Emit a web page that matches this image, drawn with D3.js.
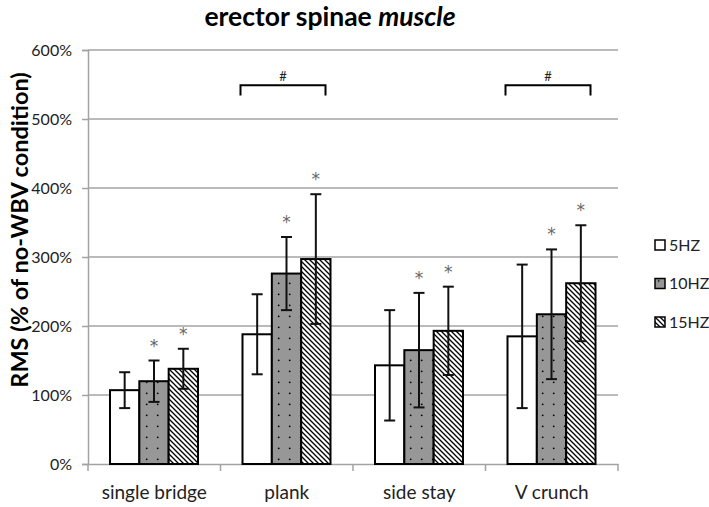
<!DOCTYPE html>
<html><head><meta charset="utf-8">
<script src="https://cdn.jsdelivr.net/npm/d3@7"></script>
<style>body{margin:0;background:#fff} svg{display:block}</style>
</head><body><svg id="c" width="709" height="507"></svg>
<script>
const categories = ["single bridge", "plank", "side stay", "V crunch"];
const seriesNames = ["5HZ", "10HZ", "15HZ"];
const values5 = [107, 188, 143, 185];
const errors5 = [26, 58, 80, 104];
const values10 = [120, 276, 165, 217];
const errors10 = [30, 53, 83, 94];
const values15 = [138, 297, 193, 262];
const errors15 = [29, 94, 64, 84];
const yTicks = [0, 100, 200, 300, 400, 500, 600];
const starredSeries = ["10HZ", "15HZ"];
const bracketCategories = ["plank", "V crunch"];
const bracketLevels = [549, 549];
const bracketEnds = [534, 534];
const bracketLabel = "#";

(function () {
const seriesValues = [values5, values10, values15];
const seriesErrors = [errors5, errors10, errors15];
const rows = [];
categories.forEach((c, i) => seriesNames.forEach((s, j) =>
  rows.push({cat: c, series: s, v: seriesValues[j][i], e: seriesErrors[j][i]})));

const FONT = "Lato, 'Open Sans', sans-serif";
const svg = d3.select("#c");
const defs = svg.append("defs");
const dots = defs.append("pattern").attr("id", "dots").attr("patternUnits", "userSpaceOnUse")
  .attr("width", 11).attr("height", 11);
dots.append("rect").attr("width", 11).attr("height", 11).attr("fill", "#979797");
dots.append("circle").attr("cx", 3.7).attr("cy", 8.3).attr("r", 0.9).attr("fill", "#000");
const stripes = defs.append("pattern").attr("id", "stripes").attr("patternUnits", "userSpaceOnUse")
  .attr("width", 5).attr("height", 5);
stripes.append("rect").attr("width", 5).attr("height", 5).attr("fill", "#fff");
stripes.append("path").attr("d", "M0,0L5,5M-1,4L1,6M4,-1L6,1").attr("stroke", "#000").attr("stroke-width", 1.3);
const fills = {"5HZ": "#fff", "10HZ": "url(#dots)", "15HZ": "url(#stripes)"};

const pLeft = 88, pRight = 618, pTop = 50, pBottom = 464;
const x = d3.scaleBand().domain(categories).range([pLeft, pRight]).padding(0);
const x1 = d3.scaleBand().domain(seriesNames).range([22, 110]).padding(0);
const y = d3.scaleLinear().domain([0, 600]).range([pBottom, pTop]);

// gridlines
svg.append("g").selectAll("line").data(yTicks.filter(t => t > 0)).join("line")
  .attr("x1", pLeft).attr("x2", pRight).attr("y1", d => y(d)).attr("y2", d => y(d))
  .attr("stroke", "#a3a3a3").attr("stroke-width", 1.5);

// y axis
const yAxis = svg.append("g").attr("transform", `translate(${pLeft},0)`)
  .call(d3.axisLeft(y).tickValues(yTicks).tickFormat(d => d + "%").tickSize(6).tickPadding(10));
yAxis.select(".domain").attr("stroke", "#a3a3a3").attr("stroke-width", 1.5);
yAxis.selectAll(".tick line").attr("stroke", "#a3a3a3").attr("stroke-width", 1.5);
yAxis.selectAll("text").attr("font-family", FONT).attr("font-size", 16).attr("fill", "#222");

// x axis
const xAxis = svg.append("g").attr("transform", `translate(0,${pBottom})`)
  .call(d3.axisBottom(x).tickSize(0).tickPadding(22));
xAxis.select(".domain").attr("stroke", "#a3a3a3").attr("stroke-width", 1.5);
xAxis.selectAll("text").attr("font-family", FONT).attr("font-size", 19).attr("fill", "#222");
xAxis.selectAll(".bound").data(categories.concat([null])).join("line")
  .attr("x1", (d, i) => i < categories.length ? x(d) : x.range()[1])
  .attr("x2", (d, i) => i < categories.length ? x(d) : x.range()[1])
  .attr("y1", 0).attr("y2", 7).attr("stroke", "#a3a3a3").attr("stroke-width", 1.5);

// bars
const bw = x1.bandwidth();
svg.append("g").selectAll("rect").data(rows).join("rect")
  .attr("x", d => x(d.cat) + x1(d.series)).attr("width", bw)
  .attr("y", d => y(d.v)).attr("height", d => pBottom - y(d.v))
  .attr("fill", d => fills[d.series]).attr("stroke", "#000").attr("stroke-width", 2);

// error bars
const eg = svg.append("g").attr("stroke", "#111").attr("stroke-width", 2);
rows.forEach(d => {
  const cx = x(d.cat) + x1(d.series) + bw / 2;
  eg.append("line").attr("x1", cx).attr("x2", cx).attr("y1", y(d.v + d.e)).attr("y2", y(d.v - d.e));
  [d.v + d.e, d.v - d.e].forEach(v => eg.append("line")
    .attr("x1", cx - 5.5).attr("x2", cx + 5.5).attr("y1", y(v)).attr("y2", y(v)));
});

// asterisks
svg.append("g").selectAll("text").data(rows.filter(d => starredSeries.includes(d.series))).join("text")
  .attr("x", d => x(d.cat) + x1(d.series) + bw / 2).attr("y", d => y(d.v + d.e) - 9)
  .attr("text-anchor", "middle").attr("font-family", "'DejaVu Sans', sans-serif")
  .attr("font-size", 17).attr("fill", "#666")
  .text("*");

// brackets
bracketCategories.forEach((c, i) => {
  const xa = x(c) + x1(seriesNames[0]) - 2;
  const xb = x(c) + x1(seriesNames[2]) + bw - 5;
  svg.append("path")
    .attr("d", `M${xa},${y(bracketEnds[i])}V${y(bracketLevels[i])}H${xb}V${y(bracketEnds[i])}`)
    .attr("fill", "none").attr("stroke", "#000").attr("stroke-width", 2);
  svg.append("text").attr("x", (xa + xb) / 2).attr("y", y(bracketLevels[i]) - 4)
    .attr("text-anchor", "middle").attr("font-family", FONT).attr("font-size", 13).attr("fill", "#222")
    .text(bracketLabel);
});

// legend
const lg = svg.append("g").attr("transform", "translate(655,245)");
seriesNames.forEach((s, i) => {
  const g = lg.append("g").attr("transform", `translate(0,${i * 38.5})`);
  g.append("rect").attr("x", 0).attr("y", -5).attr("width", 10).attr("height", 10)
    .attr("fill", fills[s]).attr("stroke", "#000").attr("stroke-width", 1.5);
  g.append("text").attr("x", 14).attr("y", 0).attr("dy", "0.35em")
    .attr("font-family", FONT).attr("font-size", 16).attr("fill", "#222").text(s);
});

// title
const t = svg.append("text").attr("x", 330).attr("y", 26).attr("text-anchor", "middle")
  .attr("font-family", FONT).attr("font-size", 26.5).attr("font-weight", "bold").attr("fill", "#000");
t.append("tspan").text("erector spinae ");
t.append("tspan").attr("font-style", "italic").text("muscle");

// y label
svg.append("text").attr("transform", "translate(28,230) rotate(-90)").attr("text-anchor", "middle")
  .attr("font-family", FONT).attr("font-size", 23.5).attr("font-weight", "bold").attr("fill", "#000")
  .text("RMS (% of no-WBV condition)");
})();
</script></body></html>
